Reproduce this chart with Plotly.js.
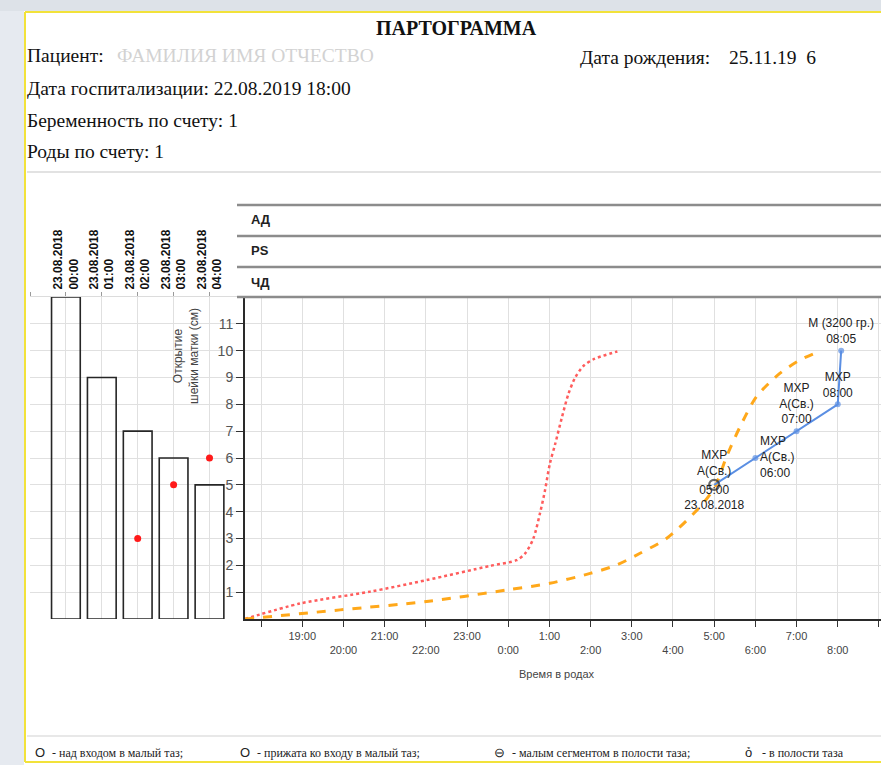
<!DOCTYPE html>
<html>
<head>
<meta charset="utf-8">
<script src="https://cdn.plot.ly/plotly-3.0.1.min.js"></script>
<style>
  html, body { margin: 0; padding: 0; overflow: hidden; background: #ffffff; }
  #chart { width: 881px; height: 765px; }
</style>
</head>
<body>
<div id="chart"></div>
<script>
// ---------------- data ----------------
// Left panel: contractions (bars) and red dots by hour
var barPositions = [1, 2, 3, 4, 5];
var barLabels = ["23.08.2018<br>00:00", "23.08.2018<br>01:00", "23.08.2018<br>02:00", "23.08.2018<br>03:00", "23.08.2018<br>04:00"];
var barValues = [12, 9, 7, 6, 5];
var dotPositions = [3, 4, 5];
var dotValues = [3, 5, 6];

// Main panel: hours since 18:00 (22.08) on x
var tickHours = [0, 1, 2, 3, 4, 5, 6, 7, 8, 9, 10, 11, 12, 13, 14, 15];
var clockLabels = ["", "19:00", "20:00", "21:00", "22:00", "23:00", "0:00", "1:00", "2:00", "3:00", "4:00", "5:00", "6:00", "7:00", "8:00", ""];
var yTicks = [1, 2, 3, 4, 5, 6, 7, 8, 9, 10, 11];

// red dotted curve
var redHours = [-0.39, 0.95, 2.65, 4.02, 5.56, 6.2, 6.41, 6.61, 6.77, 6.89, 7.01, 7.14, 7.3, 7.46, 7.62, 7.82, 8.07, 8.65];
var redValues = [0, 0.58, 1.02, 1.45, 1.98, 2.19, 2.44, 3.0, 3.93, 4.77, 5.78, 6.52, 7.49, 8.38, 8.98, 9.42, 9.68, 9.97];

// orange dashed curve
var orangeHours = [-0.39, 1.92, 4.02, 5.96, 7.01, 7.99, 8.63, 9.2, 9.85, 10.66, 11.02, 11.3, 11.63, 12.03, 12.6, 13.08, 13.53];
var orangeValues = [0, 0.34, 0.65, 1.08, 1.33, 1.7, 2.01, 2.45, 3.01, 4.19, 4.93, 6.05, 7.17, 8.29, 9.16, 9.65, 9.96];

// blue observed dilatation
var blueHours = [11, 12, 13, 14, 14 + 5 / 60];
var blueValues = [5, 6, 7, 8, 10];
var blueLabels = ["МХР<br>А(Св.)", "МХР<br>А(Св.)<br>06:00", "МХР<br>А(Св.)<br>07:00", "МХР<br>08:00", "М (3200 гр.)<br>08:05"];
var firstPointExtra = "05:00<br>23.08.2018";

var rowLabels = ["АД", "PS", "ЧД"];
var legendItems = [
  ["О", "- над входом в малый таз;"],
  ["О", "- прижата ко входу в малый таз;"],
  ["⊖", "- малым сегментом в полости таза;"],
  ["ỏ", "- в полости таза"]
];

// ---------------- geometry helpers ----------------
var W = 881, H = 765;
function px(x) { return x / W; }
function py(y) { return 1 - y / H; }

var plotTop = 297, plotBottom = 619;
var yDomain = [py(plotBottom), py(plotTop)];
var leftRange = [0, (245 - 30) / 35.9];
var mainRange = [-0.39, 15.05];

var evenVals = [], evenText = [];
tickHours.forEach(function (h, i) {
  if (h % 2 === 0) { evenVals.push(h); evenText.push(clockLabels[i]); }
});

var gridColor = "#e0e0e0";
var lblFont = { family: "Liberation Sans, Arial, sans-serif", size: 12, color: "#222" };

var traces = [
  {
    type: "bar", x: barPositions, y: barValues, width: 0.8,
    xaxis: "x", yaxis: "y",
    marker: { color: "rgba(0,0,0,0)", line: { color: "#262626", width: 1.6 } },
    hoverinfo: "skip"
  },
  {
    type: "scatter", mode: "markers", x: dotPositions, y: dotValues,
    xaxis: "x", yaxis: "y",
    marker: { color: "#ff1a1a", size: 7 }
  },
  {
    type: "scatter", mode: "lines", x: redHours, y: redValues,
    xaxis: "x2", yaxis: "y2",
    line: { color: "#ff5c5c", width: 2.5, dash: "dot", shape: "spline", smoothing: 0.8 }
  },
  {
    type: "scatter", mode: "lines", x: orangeHours, y: orangeValues,
    xaxis: "x2", yaxis: "y2",
    line: { color: "#ffa81a", width: 3, dash: "dash", shape: "spline", smoothing: 0.8 }
  },
  {
    type: "scatter", mode: "lines+markers+text", x: blueHours, y: blueValues,
    xaxis: "x2", yaxis: "y2", cliponaxis: false,
    line: { color: "#5b8fe3", width: 2 },
    marker: {
      symbol: ["circle-open", "circle", "circle", "circle", "circle"],
      color: ["#2a2a2a", "#5b8fe3", "#5b8fe3", "#5b8fe3", "#5b8fe3"],
      size: [10, 6, 6, 6, 6],
      line: { width: [2.2, 0, 0, 0, 0], color: "#2a2a2a" }
    },
    text: blueLabels,
    textposition: ["top center", "middle right", "top center", "top center", "top center"],
    textfont: lblFont
  },
  {
    type: "scatter", mode: "text", x: [blueHours[0]], y: [blueValues[0]],
    xaxis: "x2", yaxis: "y2", cliponaxis: false,
    text: [firstPointExtra], textposition: "bottom center", textfont: lblFont
  },
  // invisible carrier so the second row of hour labels is drawn
  {
    type: "scatter", mode: "markers", x: evenVals, y: evenVals.map(function () { return 0; }),
    xaxis: "x4", yaxis: "y2", marker: { opacity: 0, size: 1 }, hoverinfo: "skip"
  }
];

var shapes = [
  // surrounding window pieces
  { type: "rect", xref: "paper", yref: "paper", x0: 0, x1: px(24), y0: 0, y1: 1, fillcolor: "#e6eaf0", line: { width: 0 }, layer: "below" },
  { type: "rect", xref: "paper", yref: "paper", x0: 0, x1: 1, y0: py(11), y1: 1, fillcolor: "#dde2e8", line: { width: 0 }, layer: "below" },
  { type: "line", xref: "paper", yref: "paper", x0: px(25), x1: px(25), y0: py(12), y1: py(762), line: { color: "#f2e23a", width: 2 } },
  { type: "line", xref: "paper", yref: "paper", x0: px(25), x1: 1, y0: py(12), y1: py(12), line: { color: "#f2e23a", width: 2 } },
  { type: "line", xref: "paper", yref: "paper", x0: px(25), x1: 1, y0: py(762), y1: py(762), line: { color: "#f2e23a", width: 2 } },
  // separators
  { type: "line", xref: "paper", yref: "paper", x0: px(27), x1: 1, y0: py(172), y1: py(172), line: { color: "#e2e2e2", width: 2 } },
  { type: "line", xref: "paper", yref: "paper", x0: px(27), x1: 1, y0: py(736), y1: py(736), line: { color: "#e8e8e8", width: 2 } }
];
[205, 236, 267, 297].forEach(function (y) {
  shapes.push({ type: "line", xref: "paper", yref: "paper", x0: px(237), x1: 1, y0: py(y), y1: py(y), line: { color: "#8c8c8c", width: 2.5 } });
});

var serif = "Liberation Serif, Times New Roman, serif";
var hdr = { family: serif, size: 19.5, color: "#111" };
var annotations = [
  { text: "<b>ПАРТОГРАММА</b>", x: px(456), y: py(28), font: { family: serif, size: 20, color: "#111" } },
  { text: "Пациент:", x: px(25), y: py(56), xanchor: "left", font: hdr },
  { text: "ФАМИЛИЯ ИМЯ ОТЧЕСТВО", x: px(115), y: py(56), xanchor: "left", font: { family: serif, size: 19.5, color: "#d2d2d2" } },
  { text: "Дата рождения:", x: px(578), y: py(58), xanchor: "left", font: hdr },
  { text: "25.11.19  6", x: px(727), y: py(58), xanchor: "left", font: hdr },
  { text: "Дата госпитализации: 22.08.2019 18:00", x: px(25), y: py(88), xanchor: "left", font: hdr },
  { text: "Беременность по счету: 1", x: px(25), y: py(120), xanchor: "left", font: hdr },
  { text: "Роды по счету: 1", x: px(25), y: py(152), xanchor: "left", font: hdr },
  { text: "Открытие<br>шейки матки (см)", x: px(186), y: py(356), xanchor: "center", textangle: -90, font: { size: 12, color: "#444" } },
  { text: "Время в родах", x: px(557), y: py(674), font: { size: 11, color: "#444" } }
];
[220, 251, 282].forEach(function (y, i) {
  annotations.push({ text: "<b>" + rowLabels[i] + "</b>", x: px(249), y: py(y), xanchor: "left", font: { size: 13, color: "#222" } });
});
var legendX = [[33, 50], [238, 255], [492, 510], [743, 760]];
legendItems.forEach(function (it, i) {
  annotations.push({ text: it[0], x: px(legendX[i][0]), y: py(752), xanchor: "left", font: { family: "Liberation Sans, Arial", size: 13, color: "#222" } });
  annotations.push({ text: it[1], x: px(legendX[i][1]), y: py(753), xanchor: "left", font: { family: serif, size: 12, color: "#222" } });
});
annotations.forEach(function (a) { a.xref = "paper"; a.yref = "paper"; a.showarrow = false; if (!a.yanchor) a.yanchor = "middle"; });

var layout = {
  width: W, height: H,
  margin: { l: 0, r: 0, t: 0, b: 0 },
  paper_bgcolor: "#ffffff", plot_bgcolor: "#ffffff",
  showlegend: false,
  font: { family: "Liberation Sans, Arial, sans-serif", size: 11, color: "#444" },
  xaxis: {
    domain: [px(30), px(245)], anchor: "y", side: "top", range: leftRange,
    tickmode: "array", tickvals: [0].concat(barPositions), ticktext: [""].concat(barLabels),
    tickangle: -90, ticks: "outside", ticklen: 4, tickcolor: "#9a9a9a",
    tickfont: { size: 12, color: "#111", family: "Liberation Sans, Arial, sans-serif", weight: "bold" },
    showline: true, linecolor: "#dcdcdc", linewidth: 1,
    showgrid: true, gridcolor: gridColor, zeroline: false
  },
  xaxis3: {
    overlaying: "x", anchor: "y", side: "bottom", range: leftRange,
    tickmode: "array", tickvals: [0].concat(barPositions), ticks: "outside", ticklen: 6, tickcolor: "#333",
    showticklabels: false, showline: true, linecolor: "#2a2a2a", linewidth: 2,
    showgrid: false, zeroline: false
  },
  yaxis: {
    domain: yDomain, anchor: "x", range: [0, 12], dtick: 1,
    showticklabels: false, ticks: "", showline: false, zeroline: false,
    showgrid: true, gridcolor: gridColor
  },
  xaxis2: {
    domain: [px(245), 1], anchor: "y2", range: mainRange,
    tickmode: "array", tickvals: tickHours,
    ticktext: tickHours.map(function (h, i) { return h % 2 === 1 ? clockLabels[i] : ""; }),
    ticks: "outside", ticklen: 6, tickcolor: "#333",
    tickfont: { size: 11, color: "#444" },
    showline: true, linecolor: "#2a2a2a", linewidth: 2,
    showgrid: true, gridcolor: gridColor, zeroline: false
  },
  xaxis4: {
    domain: [px(245), 1], overlaying: "x2", anchor: "y2", side: "bottom", range: mainRange,
    tickmode: "array", tickvals: evenVals, ticktext: evenText,
    ticks: "outside", ticklen: 21, tickcolor: "rgba(0,0,0,0)",
    tickfont: { size: 11, color: "#444" },
    showline: false, showgrid: false, zeroline: false
  },
  yaxis2: {
    domain: yDomain, anchor: "x2", range: [0, 12],
    tickmode: "array", tickvals: yTicks,
    ticks: "outside", ticklen: 7, tickcolor: "#333",
    tickfont: { size: 14, color: "#555" },
    showline: true, linecolor: "#2a2a2a", linewidth: 2,
    showgrid: true, gridcolor: gridColor, zeroline: false
  },
  shapes: shapes,
  annotations: annotations
};

Plotly.newPlot("chart", traces, layout, { staticPlot: true, displayModeBar: false });
</script>
</body>
</html>
